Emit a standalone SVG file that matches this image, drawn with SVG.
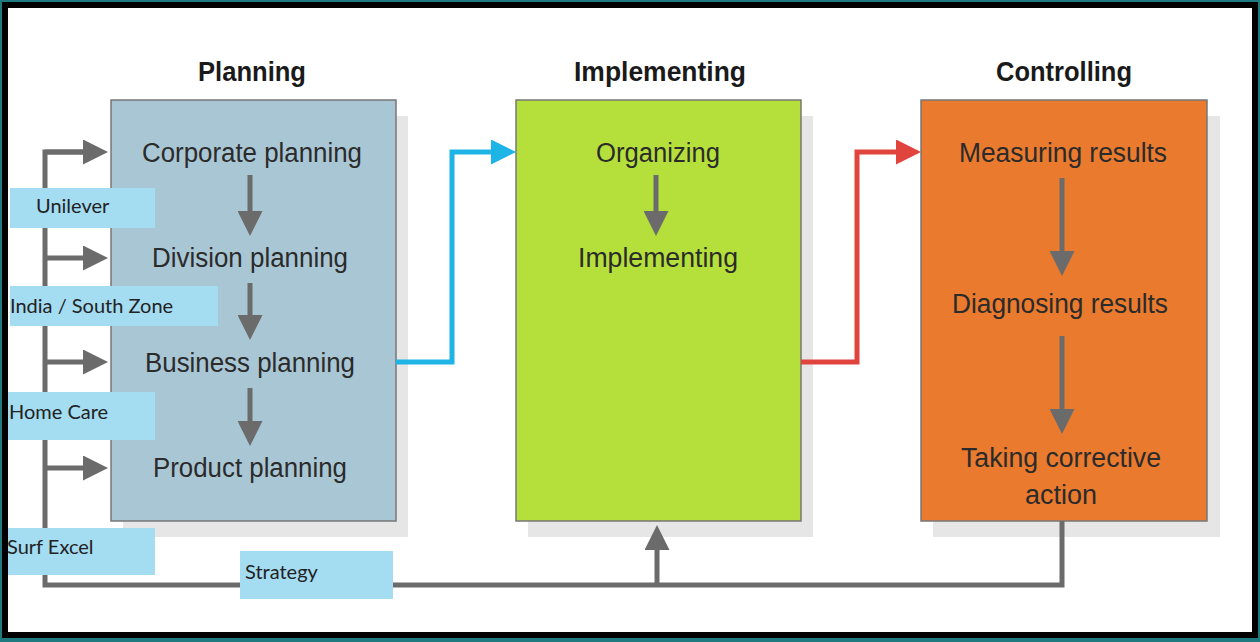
<svg xmlns="http://www.w3.org/2000/svg" width="1260" height="642" viewBox="0 0 1260 642">
<style>
.t{font-family:"Liberation Sans",Arial,sans-serif;font-size:27px;fill:#2b2b2b;text-anchor:middle}
.h{font-family:"Liberation Sans",Arial,sans-serif;font-size:27px;font-weight:bold;fill:#1a1a1a;text-anchor:middle}
.l{font-family:"Lato","Open Sans",sans-serif;font-size:20px;fill:#222}
.lb{fill:#a4dcf2}
.sh{fill:#e6e6e6}
.g{stroke:#6b6b6b;stroke-width:5;fill:none}
</style>
<defs>
<marker id="ag" markerWidth="5" markerHeight="5" refX="3" refY="2.5" orient="auto" markerUnits="strokeWidth"><path d="M0,0 L5,2.5 L0,5 Z" fill="#6b6b6b"/></marker>
<marker id="ab" markerWidth="5" markerHeight="5" refX="3" refY="2.5" orient="auto" markerUnits="strokeWidth"><path d="M0,0 L5,2.5 L0,5 Z" fill="#1fb4e6"/></marker>
<marker id="ar" markerWidth="5" markerHeight="5" refX="3" refY="2.5" orient="auto" markerUnits="strokeWidth"><path d="M0,0 L5,2.5 L0,5 Z" fill="#e0443c"/></marker>
</defs>
<rect width="1260" height="642" fill="#1f7a80"/>
<rect x="2" y="2" width="1256" height="636" fill="#000"/>
<rect x="8" y="8" width="1244" height="624" fill="#fff"/>

<g id="planning">
<rect class="sh" x="123" y="116" width="285" height="421"/>
<rect x="111" y="100" width="285" height="421" fill="#a9c6d4" stroke="#777" stroke-width="1.5"/>
<text class="h" x="252" y="81" textLength="108" lengthAdjust="spacingAndGlyphs">Planning</text>
<text class="t" x="252" y="162" textLength="220" lengthAdjust="spacingAndGlyphs">Corporate planning</text>
<text class="t" x="250" y="267" textLength="196" lengthAdjust="spacingAndGlyphs">Division planning</text>
<text class="t" x="250" y="372" textLength="210" lengthAdjust="spacingAndGlyphs">Business planning</text>
<text class="t" x="250" y="477" textLength="194" lengthAdjust="spacingAndGlyphs">Product planning</text>
<line class="g" x1="250" y1="175" x2="250" y2="226" marker-end="url(#ag)"/>
<line class="g" x1="250" y1="283" x2="250" y2="330" marker-end="url(#ag)"/>
<line class="g" x1="250" y1="388" x2="250" y2="436" marker-end="url(#ag)"/>
</g>

<g id="implementing">
<rect class="sh" x="528" y="116" width="285" height="421"/>
<rect x="516" y="100" width="285" height="421" fill="#b5e03c" stroke="#777" stroke-width="1.5"/>
<text class="h" x="660" y="81" textLength="172" lengthAdjust="spacingAndGlyphs">Implementing</text>
<text class="t" x="658" y="162" textLength="124" lengthAdjust="spacingAndGlyphs">Organizing</text>
<text class="t" x="658" y="267" textLength="160" lengthAdjust="spacingAndGlyphs">Implementing</text>
<line class="g" x1="656" y1="175" x2="656" y2="226" marker-end="url(#ag)"/>
</g>

<g id="controlling">
<rect class="sh" x="933" y="116" width="287" height="421"/>
<rect x="921" y="100" width="286" height="421" fill="#ea7a2e" stroke="#777" stroke-width="1.5"/>
<text class="h" x="1064" y="81" textLength="136" lengthAdjust="spacingAndGlyphs">Controlling</text>
<text class="t" x="1063" y="162" textLength="208" lengthAdjust="spacingAndGlyphs">Measuring results</text>
<text class="t" x="1060" y="313" textLength="216" lengthAdjust="spacingAndGlyphs">Diagnosing results</text>
<text class="t" x="1061" y="467" textLength="200" lengthAdjust="spacingAndGlyphs">Taking corrective</text>
<text class="t" x="1061" y="504" textLength="72" lengthAdjust="spacingAndGlyphs">action</text>
<line class="g" x1="1062" y1="178" x2="1062" y2="266" marker-end="url(#ag)"/>
<line class="g" x1="1062" y1="336" x2="1062" y2="424" marker-end="url(#ag)"/>
</g>

<g id="connectors">
<polyline points="396,362 452,362 452,152 506,152" fill="none" stroke="#1fb4e6" stroke-width="5" marker-end="url(#ab)"/>
<polyline points="801,362 857,362 857,152 911,152" fill="none" stroke="#e0443c" stroke-width="5" marker-end="url(#ar)"/>
<polyline class="g" points="1062,521 1062,585 45,585 45,152 98,152"/>
<line class="g" x1="45" y1="152" x2="98" y2="152" marker-end="url(#ag)"/>
<line class="g" x1="45" y1="258" x2="98" y2="258" marker-end="url(#ag)"/>
<line class="g" x1="45" y1="362" x2="98" y2="362" marker-end="url(#ag)"/>
<line class="g" x1="45" y1="468" x2="98" y2="468" marker-end="url(#ag)"/>
<line class="g" x1="657" y1="585" x2="657" y2="535" marker-end="url(#ag)"/>
</g>

<g id="labels">
<rect class="lb" x="10" y="188" width="145" height="40"/>
<text class="l" x="36" y="213">Unilever</text>
<rect class="lb" x="10" y="286" width="208" height="40"/>
<text class="l" x="10" y="313">India / South Zone</text>
<rect class="lb" x="8" y="392" width="147" height="48"/>
<text class="l" x="9" y="419">Home Care</text>
<rect class="lb" x="8" y="528" width="147" height="47"/>
<text class="l" x="7" y="554">Surf Excel</text>
<rect class="lb" x="240" y="551" width="153" height="48"/>
<text class="l" x="245" y="579">Strategy</text>
</g>
</svg>
